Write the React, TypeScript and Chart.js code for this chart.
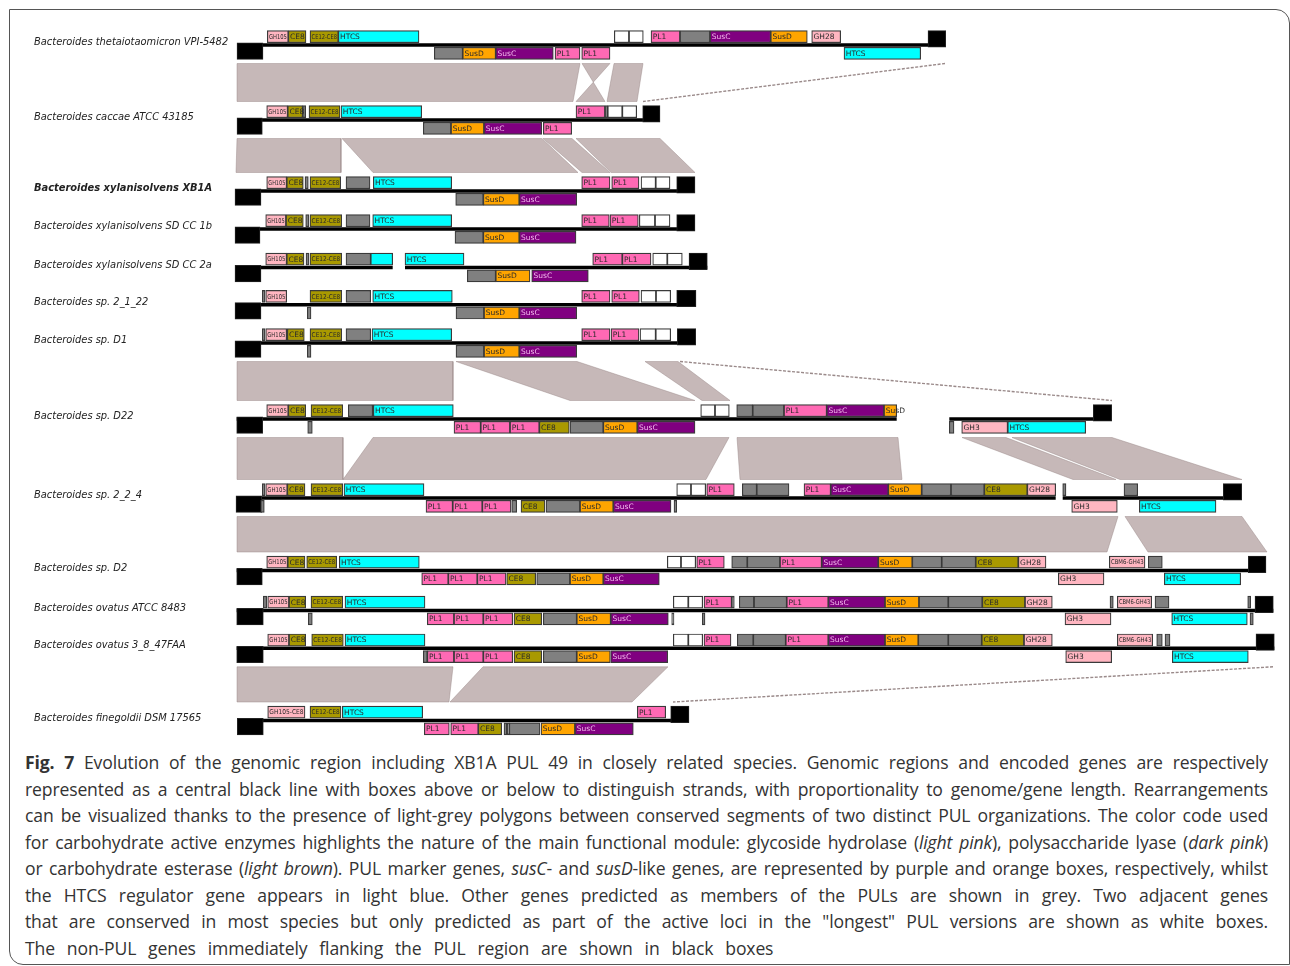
import { useEffect, useRef } from 'react';
import { Chart, registerables } from 'chart.js';

Chart.register(...registerables);

// [start, end, strand (+1 above line, -1 below), family, label]
type Gene = [number, number, number, string, string];

const speciesNames = [
  'Bacteroides thetaiotaomicron VPI-5482',
  'Bacteroides caccae ATCC 43185',
  'Bacteroides xylanisolvens XB1A',
  'Bacteroides xylanisolvens SD CC 1b',
  'Bacteroides xylanisolvens SD CC 2a',
  'Bacteroides sp. 2_1_22',
  'Bacteroides sp. D1',
  'Bacteroides sp. D22',
  'Bacteroides sp. 2_2_4',
  'Bacteroides sp. D2',
  'Bacteroides ovatus ATCC 8483',
  'Bacteroides ovatus 3_8_47FAA',
  'Bacteroides finegoldii DSM 17565',
];

// track (genome line) positions on the vertical axis
const trackY = [45, 120, 191, 229, 267.5, 304.7, 343, 419, 498, 570.5, 610.5, 648.3, 720.5];

// contig extents for each track
const contigs: [number, number][][] = [
  [[237, 945.7]],
  [[237, 660]],
  [[235, 695]],
  [[235, 695]],
  [[235, 392.7], [405, 707.3]],
  [[235, 696]],
  [[235, 695.7]],
  [[236.7, 896.7], [949.3, 1111.7]],
  [[236, 1055.7], [1062.7, 1241.7]],
  [[236.7, 1266]],
  [[236.7, 1273.3]],
  [[236.7, 1274.3]],
  [[237.3, 689]],
];

const thetaGenes: Gene[] = [
  [237, 263, -1, 'flank', ''], [267.3, 288.3, 1, 'GH', 'GH105'], [288.3, 306, 1, 'CE', 'CE8'],
  [310, 338.3, 1, 'CE', 'CE12-CE8'], [338.3, 419, 1, 'HTCS', 'HTCS'], [434.3, 462.7, -1, 'other', ''],
  [462.7, 495.7, -1, 'SusD', 'SusD'], [495.7, 553.3, -1, 'SusC', 'SusC'], [555, 580, -1, 'PL', 'PL1'],
  [581.7, 610, -1, 'PL', 'PL1'], [614.3, 629, 1, 'white', ''], [629, 643.3, 1, 'white', ''],
  [651, 680, 1, 'PL', 'PL1'], [680, 710, 1, 'other', ''], [710, 770.7, 1, 'SusC', 'SusC'],
  [770.7, 807.3, 1, 'SusD', 'SusD'], [811.7, 840.7, 1, 'GH', 'GH28'], [844, 920.7, -1, 'HTCS', 'HTCS'],
  [928, 945.7, 1, 'flank', ''],
];
const caccaeGenes: Gene[] = [
  [237, 262.3, -1, 'flank', ''], [266.7, 287.7, 1, 'GH', 'GH105'], [287.7, 302.7, 1, 'CE', 'CE8'],
  [302.7, 305.7, 1, 'other', ''], [309, 340, 1, 'CE', 'CE12-CE8'], [341, 421.7, 1, 'HTCS', 'HTCS'],
  [423.3, 451, -1, 'other', ''], [451, 484, -1, 'SusD', 'SusD'], [484, 541.7, -1, 'SusC', 'SusC'],
  [543.3, 571.7, -1, 'PL', 'PL1'], [576, 605, 1, 'PL', 'PL1'], [605, 607.7, 1, 'other', ''],
  [607.7, 622.3, 1, 'white', ''], [622.3, 636.7, 1, 'white', ''], [642.7, 660, 1, 'flank', ''],
];
const xb1aGenes: Gene[] = [
  [235, 261, -1, 'flank', ''], [266.7, 286.7, 1, 'GH', 'GH105'], [286.7, 303.3, 1, 'CE', 'CE8'],
  [305, 308.3, 1, 'other', ''], [310, 340.7, 1, 'CE', 'CE12-CE8'], [346, 370, 1, 'other', ''],
  [373.3, 451.7, 1, 'HTCS', 'HTCS'], [455.7, 483.3, -1, 'other', ''], [483.3, 519.3, -1, 'SusD', 'SusD'],
  [519.3, 576.7, -1, 'SusC', 'SusC'], [581.7, 610, 1, 'PL', 'PL1'], [611.7, 639, 1, 'PL', 'PL1'],
  [641, 655.7, 1, 'white', ''], [655.7, 670, 1, 'white', ''], [676.7, 695, 1, 'flank', ''],
];
const sdcc1bGenes: Gene[] = [
  [235, 260, -1, 'flank', ''], [265.7, 286, 1, 'GH', 'GH105'], [286, 303.3, 1, 'CE', 'CE8'],
  [305.7, 309, 1, 'other', ''], [310, 341.7, 1, 'CE', 'CE12-CE8'], [346, 370, 1, 'other', ''],
  [372.7, 451.7, 1, 'HTCS', 'HTCS'], [455, 483.3, -1, 'other', ''], [483.3, 519.3, -1, 'SusD', 'SusD'],
  [519.3, 576, -1, 'SusC', 'SusC'], [581.7, 609.3, 1, 'PL', 'PL1'], [610, 638.3, 1, 'PL', 'PL1'],
  [639.3, 655, 1, 'white', ''], [655, 670, 1, 'white', ''], [676.7, 695, 1, 'flank', ''],
];
const sdcc2aGenes: Gene[] = [
  [235, 261, -1, 'flank', ''], [265.7, 286.7, 1, 'GH', 'GH105'], [286.7, 304, 1, 'CE', 'CE8'],
  [306, 309, 1, 'other', ''], [310, 341.7, 1, 'CE', 'CE12-CE8'], [346, 370.7, 1, 'other', ''],
  [370.7, 392.7, 1, 'HTCS', ''], [405, 464, 1, 'HTCS', 'HTCS'], [467.3, 495.7, -1, 'other', ''],
  [495.7, 530, -1, 'SusD', 'SusD'], [531.7, 588.3, -1, 'SusC', 'SusC'], [592.7, 622.3, 1, 'PL', 'PL1'],
  [622.3, 651, 1, 'PL', 'PL1'], [652.7, 667.3, 1, 'white', ''], [667.3, 682.3, 1, 'white', ''],
  [689, 707.3, 1, 'flank', ''],
];
const sp2122Genes: Gene[] = [
  [235, 261, -1, 'flank', ''], [262.3, 265, 1, 'other', ''], [265.7, 286.7, 1, 'GH', 'GH105'],
  [307.3, 311, -1, 'other', ''], [310, 341.7, 1, 'CE', 'CE12-CE8'], [346, 370.7, 1, 'other', ''],
  [372.7, 452.3, 1, 'HTCS', 'HTCS'], [456, 484, -1, 'other', ''], [484, 519.3, -1, 'SusD', 'SusD'],
  [519.3, 576.7, -1, 'SusC', 'SusC'], [581.7, 610, 1, 'PL', 'PL1'], [611.7, 639.3, 1, 'PL', 'PL1'],
  [641, 656, 1, 'white', ''], [656, 670.7, 1, 'white', ''], [676.7, 696, 1, 'flank', ''],
];
const spD1Genes: Gene[] = [
  [235, 261, -1, 'flank', ''], [262.3, 265, 1, 'other', ''], [265.7, 286.7, 1, 'GH', 'GH105'],
  [287.3, 304.3, 1, 'CE', 'CE8'], [307.3, 311, -1, 'other', ''], [310, 341.7, 1, 'CE', 'CE12-CE8'],
  [346, 370.7, 1, 'other', ''], [372, 451.7, 1, 'HTCS', 'HTCS'], [456, 484, -1, 'other', ''],
  [484, 519.3, -1, 'SusD', 'SusD'], [519.3, 576.7, -1, 'SusC', 'SusC'], [581.7, 610, 1, 'PL', 'PL1'],
  [611, 639, 1, 'PL', 'PL1'], [640, 655.7, 1, 'white', ''], [655.7, 670.7, 1, 'white', ''],
  [677.3, 695.7, 1, 'flank', ''],
];
const spD22Genes: Gene[] = [
  [236.7, 262.7, -1, 'flank', ''], [266.7, 288.3, 1, 'GH', 'GH105'], [288.3, 305.7, 1, 'CE', 'CE8'],
  [307.7, 312.3, -1, 'other', ''], [311, 342.7, 1, 'CE', 'CE12-CE8'], [348.3, 372.7, 1, 'other', ''],
  [373.3, 453.3, 1, 'HTCS', 'HTCS'], [454, 480.7, -1, 'PL', 'PL1'], [480.7, 510, -1, 'PL', 'PL1'],
  [510, 539.3, -1, 'PL', 'PL1'], [539.3, 569.3, -1, 'CE', 'CE8'], [570, 603.3, -1, 'other', ''],
  [603.3, 637.3, -1, 'SusD', 'SusD'], [637.3, 695, -1, 'SusC', 'SusC'], [700.7, 715, 1, 'white', ''],
  [715, 729.3, 1, 'white', ''], [736.7, 752.7, 1, 'other', ''], [752.7, 784, 1, 'other', ''],
  [784, 826.7, 1, 'PL', 'PL1'], [826.7, 884, 1, 'SusC', 'SusC'], [884, 896.7, 1, 'SusD', 'SusD'],
  [949.3, 954, -1, 'other', ''], [961.7, 1007.7, -1, 'GH', 'GH3'], [1007.7, 1085.7, -1, 'HTCS', 'HTCS'],
  [1093.3, 1111.7, 1, 'flank', ''],
];
const sp224Genes: Gene[] = [
  [236, 261.7, -1, 'flank', ''], [260.7, 264.3, -1, 'other', ''], [262.3, 265, 1, 'other', ''],
  [265.7, 287.3, 1, 'GH', 'GH105'], [287.3, 305, 1, 'CE', 'CE8'], [311, 342.7, 1, 'CE', 'CE12-CE8'],
  [344, 424, 1, 'HTCS', 'HTCS'], [426, 452.7, -1, 'PL', 'PL1'], [452.7, 482.3, -1, 'PL', 'PL1'],
  [482.3, 511, -1, 'PL', 'PL1'], [511.7, 516.7, -1, 'other', ''], [521, 545, -1, 'CE', 'CE8'],
  [546, 580, -1, 'other', ''], [580, 613.3, -1, 'SusD', 'SusD'], [613.3, 671, -1, 'SusC', 'SusC'],
  [674, 676.7, -1, 'other', ''], [676.7, 691, 1, 'white', ''], [691, 705.7, 1, 'white', ''],
  [706.7, 734.3, 1, 'PL', 'PL1'], [742.3, 756.7, 1, 'other', ''], [756.7, 789, 1, 'other', ''],
  [804, 830.7, 1, 'PL', 'PL1'], [830.7, 888.3, 1, 'SusC', 'SusC'], [888.3, 921.7, 1, 'SusD', 'SusD'],
  [921.7, 951, 1, 'other', ''], [951, 984.3, 1, 'other', ''], [984.3, 1027.3, 1, 'CE', 'CE8'],
  [1027.3, 1055.7, 1, 'GH', 'GH28'], [1062.7, 1066, 1, 'other', ''], [1071.7, 1117.3, -1, 'GH', 'GH3'],
  [1124, 1137.7, 1, 'other', ''], [1139.3, 1216, -1, 'HTCS', 'HTCS'], [1223.3, 1241.7, 1, 'flank', ''],
];
const spD2Genes: Gene[] = [
  [236.7, 262.3, -1, 'flank', ''], [266.7, 287.7, 1, 'GH', 'GH105'], [287.7, 305, 1, 'CE', 'CE8'],
  [306.7, 336.7, 1, 'CE', 'CE12-CE8'], [339.3, 419.3, 1, 'HTCS', 'HTCS'], [421.7, 448.3, -1, 'PL', 'PL1'],
  [448.3, 477.3, -1, 'PL', 'PL1'], [477.3, 506, -1, 'PL', 'PL1'], [506.7, 535.7, -1, 'CE', 'CE8'],
  [536.7, 570, -1, 'other', ''], [570, 603.3, -1, 'SusD', 'SusD'], [603.3, 659.3, -1, 'SusC', 'SusC'],
  [667.3, 681, 1, 'white', ''], [681, 695.7, 1, 'white', ''], [696.7, 724.3, 1, 'PL', 'PL1'],
  [731.7, 747.3, 1, 'other', ''], [747.3, 780, 1, 'other', ''], [780, 821.7, 1, 'PL', 'PL1'],
  [821.7, 878.3, 1, 'SusC', 'SusC'], [878.3, 912.3, 1, 'SusD', 'SusD'], [912.3, 941.7, 1, 'other', ''],
  [941.7, 975.7, 1, 'other', ''], [975.7, 1018.3, 1, 'CE', 'CE8'], [1018.3, 1046, 1, 'GH', 'GH28'],
  [1058.3, 1104, -1, 'GH', 'GH3'], [1109.3, 1145, 1, 'GH', 'CBM6-GH43'], [1148.3, 1162.3, 1, 'other', ''],
  [1164.3, 1240.7, -1, 'HTCS', 'HTCS'], [1248.3, 1266, 1, 'flank', ''],
];
const ovatus8483Genes: Gene[] = [
  [236.7, 263.3, -1, 'flank', ''], [263.3, 266.7, 1, 'other', ''], [267.7, 289, 1, 'GH', 'GH105'],
  [289, 305.7, 1, 'CE', 'CE8'], [308.3, 312.3, -1, 'other', ''], [311, 342.7, 1, 'CE', 'CE12-CE8'],
  [345, 425, 1, 'HTCS', 'HTCS'], [427.3, 454, -1, 'PL', 'PL1'], [454, 483.3, -1, 'PL', 'PL1'],
  [483.3, 512.7, -1, 'PL', 'PL1'], [514, 541.7, -1, 'CE', 'CE8'], [543.3, 576.7, -1, 'other', ''],
  [576.7, 610.7, -1, 'SusD', 'SusD'], [610.7, 668.3, -1, 'SusC', 'SusC'], [671.7, 674, -1, 'other', ''],
  [673.3, 688.3, 1, 'white', ''], [688.3, 702.7, 1, 'white', ''], [702.3, 705, -1, 'other', ''],
  [704, 731.7, 1, 'PL', 'PL1'], [731.7, 734.3, 1, 'other', ''], [739.3, 754, 1, 'other', ''],
  [754, 786.7, 1, 'other', ''], [786.7, 828.3, 1, 'PL', 'PL1'], [828.3, 885, 1, 'SusC', 'SusC'],
  [885, 919, 1, 'SusD', 'SusD'], [919, 948.3, 1, 'other', ''], [948.3, 982.3, 1, 'other', ''],
  [982.3, 1025, 1, 'CE', 'CE8'], [1025, 1052.3, 1, 'GH', 'GH28'], [1065, 1111, -1, 'GH', 'GH3'],
  [1110, 1113.3, 1, 'other', ''], [1117.3, 1151.7, 1, 'GH', 'CBM6-GH43'], [1155, 1169, 1, 'other', ''],
  [1171.7, 1247.3, -1, 'HTCS', 'HTCS'], [1247.7, 1250.7, 1, 'other', ''], [1250, 1253.3, -1, 'other', ''],
  [1255, 1273.3, 1, 'flank', ''],
];
const ovatus3847Genes: Gene[] = [
  [236.7, 263.3, -1, 'flank', ''], [267.7, 289, 1, 'GH', 'GH105'], [289, 305.7, 1, 'CE', 'CE8'],
  [311.7, 343.3, 1, 'CE', 'CE12-CE8'], [345, 425, 1, 'HTCS', 'HTCS'], [423.3, 427.3, -1, 'other', ''],
  [427.3, 454, -1, 'PL', 'PL1'], [454, 483.3, -1, 'PL', 'PL1'], [483.3, 512.7, -1, 'PL', 'PL1'],
  [514, 541.7, -1, 'CE', 'CE8'], [543.3, 576.7, -1, 'other', ''], [576.7, 610.3, -1, 'SusD', 'SusD'],
  [610.7, 667.7, -1, 'SusC', 'SusC'], [673.3, 688.3, 1, 'white', ''], [688.3, 702.7, 1, 'white', ''],
  [704, 731, 1, 'PL', 'PL1'], [737.3, 753.3, 1, 'other', ''], [753.3, 785.7, 1, 'other', ''],
  [785.7, 828.3, 1, 'PL', 'PL1'], [828.3, 885, 1, 'SusC', 'SusC'], [885, 918.3, 1, 'SusD', 'SusD'],
  [918.3, 948.3, 1, 'other', ''], [948.3, 981.7, 1, 'other', ''], [981.7, 1024, 1, 'CE', 'CE8'],
  [1024, 1052.3, 1, 'GH', 'GH28'], [1065.7, 1111.7, -1, 'GH', 'GH3'], [1117.3, 1152.7, 1, 'GH', 'CBM6-GH43'],
  [1156.7, 1162.3, 1, 'other', ''], [1165, 1170, 1, 'other', ''], [1172.3, 1248.3, -1, 'HTCS', 'HTCS'],
  [1256, 1274.3, 1, 'flank', ''],
];
const finegoldiiGenes: Gene[] = [
  [237.3, 263.3, -1, 'flank', ''], [267.7, 305, 1, 'GH', 'GH105-CE8'], [310, 341, 1, 'CE', 'CE12-CE8'],
  [342.3, 422.7, 1, 'HTCS', 'HTCS'], [424.3, 449.3, -1, 'PL', 'PL1'], [450.7, 478.3, -1, 'PL', 'PL1'],
  [478.3, 501.7, -1, 'CE', 'CE8'], [504, 506.7, -1, 'other', ''], [507.3, 509.3, -1, 'other', ''],
  [509.3, 540, -1, 'other', ''], [541, 575, -1, 'SusD', 'SusD'], [575, 633.3, -1, 'SusC', 'SusC'],
  [637.3, 665.7, 1, 'PL', 'PL1'], [670.7, 689, 1, 'flank', ''],
];

const geneRows: Gene[][] = [
  thetaGenes, caccaeGenes, xb1aGenes, sdcc1bGenes, sdcc2aGenes, sp2122Genes, spD1Genes,
  spD22Genes, sp224Genes, spD2Genes, ovatus8483Genes, ovatus3847Genes, finegoldiiGenes,
];

// conserved segments: [upper track, upper start, upper end, lower start, lower end]
const syntenyBlocks: [number, number, number, number, number][] = [
  [0, 237, 580, 237, 573],
  [0, 582, 610, 605, 576],
  [0, 614, 643, 607, 637],
  [1, 237, 341, 236, 341],
  [1, 342, 542, 373, 578],
  [1, 543, 572, 582, 610],
  [1, 576, 660, 611, 695],
  [6, 237, 453, 237, 453],
  [6, 456, 577, 570, 695],
  [6, 645, 678, 702, 730],
  [7, 237, 343, 237, 343],
  [7, 373, 729, 343, 706],
  [7, 737, 898, 740, 902],
  [7, 962, 1006, 1073, 1116],
  [7, 1012, 1112, 1120, 1242],
  [8, 237, 1118, 237, 1107],
  [8, 1125, 1242, 1148, 1267],
  [11, 237, 453, 237, 449],
  [11, 483, 668, 450, 632],
];
// very thin conserved segments: [upper track, upper x, lower x]
const syntenyTraces: [number, number, number][] = [
  [0, 945, 643],
  [6, 680, 1112],
  [11, 1273, 673],
];

const familyColors: Record<string, string> = {
  GH: '#ffb6c1', PL: '#ff69b4', CE: '#a99900', HTCS: '#00ffff', SusC: '#800080',
  SusD: '#ffa500', other: '#808080', white: '#ffffff', flank: '#000000',
};

const GAP = 18.5;

export default function App() {
  const ref = useRef<HTMLCanvasElement>(null);

  useEffect(() => {
    const geneData: { x: [number, number]; y: number }[] = [];
    const geneColors: string[] = [];
    const geneLabels: string[] = [];
    const geneFams: string[] = [];
    const flankData: { x: [number, number]; y: number }[] = [];
    geneRows.forEach((row, r) => {
      row.forEach(([s, e, strand, fam, label]) => {
        if (fam === 'flank') {
          flankData.push({ x: [s, e], y: trackY[r] - strand * 6.2 });
        } else {
          geneData.push({ x: [s, e], y: trackY[r] - strand * 8.3 });
          geneColors.push(familyColors[fam]);
          geneLabels.push(label);
          geneFams.push(fam);
        }
      });
    });

    const contigSets = contigs.flatMap((list, r) =>
      list.map(([s, e]) => ({
        type: 'line' as const,
        data: [{ x: s, y: trackY[r] }, { x: e, y: trackY[r] }],
        borderColor: '#000',
        borderWidth: 3.4,
        pointRadius: 0,
        fill: false,
        order: 1,
      }))
    );

    const blockSets = syntenyBlocks.map(([t, ts, te, bs, be]) => {
      const T = trackY[t] + GAP;
      const B = trackY[t + 1] - GAP;
      return {
        type: 'line' as const,
        data: [{ x: ts, y: T }, { x: te, y: T }, { x: be, y: B }, { x: bs, y: B }, { x: ts, y: T }],
        fill: 'shape' as const,
        backgroundColor: '#c6b8b8',
        borderColor: 'rgba(150,132,132,0.55)',
        borderWidth: 0.8,
        pointRadius: 0,
        order: 2,
      };
    });

    const traceSets = syntenyTraces.map(([t, tx, bx]) => ({
      type: 'line' as const,
      data: [{ x: tx, y: trackY[t] + GAP }, { x: bx, y: trackY[t + 1] - GAP }],
      borderColor: '#9a8a8a',
      borderWidth: 1.4,
      borderDash: [3, 1.5],
      pointRadius: 0,
      fill: false,
      order: 2,
    }));

    const labelPlugin = {
      id: 'geneLabels',
      afterDatasetsDraw(chart: any) {
        const meta = chart.getDatasetMeta(0);
        const ctx = chart.ctx as CanvasRenderingContext2D;
        ctx.save();
        ctx.textBaseline = 'middle';
        ctx.textAlign = 'left';
        meta.data.forEach((el: any, i: number) => {
          const label = geneLabels[i];
          if (!label) return;
          const { x, base, y } = el.getProps(['x', 'base', 'y'], true);
          const left = Math.min(x, base);
          const w = Math.abs(x - base);
          ctx.fillStyle = geneFams[i] === 'SusC' ? '#f3b8ec' : '#2a2a2a';
          if (label.length > 4) {
            // long labels are squeezed horizontally to fit inside their box
            ctx.font = '6.6px "DejaVu Sans"';
            const tw = ctx.measureText(label).width;
            const sx = Math.min(1, (w - 3) / tw);
            ctx.save();
            ctx.translate(left + 1.6, y + 0.5);
            ctx.scale(sx, 1);
            ctx.fillText(label, 0, 0);
            ctx.restore();
          } else {
            ctx.font = '7.5px "DejaVu Sans"';
            ctx.fillText(label, left + 1.8, y + 0.5);
          }
        });
        ctx.restore();
      },
    };

    const chart = new Chart(ref.current as HTMLCanvasElement, {
      type: 'scatter',
      data: {
        datasets: [
          {
            type: 'bar',
            data: geneData as any,
            indexAxis: 'y',
            barThickness: 12,
            grouped: false,
            backgroundColor: geneColors,
            borderColor: '#3a3a3a',
            borderWidth: 1.2,
            borderSkipped: false,
            order: 0,
          } as any,
          {
            type: 'bar',
            data: flankData as any,
            indexAxis: 'y',
            barThickness: 16.5,
            grouped: false,
            backgroundColor: '#000',
            borderColor: '#222',
            borderWidth: 1,
            borderSkipped: false,
            order: 0,
          } as any,
          ...contigSets,
          ...blockSets,
          ...traceSets,
        ] as any,
      },
      options: {
        responsive: false,
        animation: false,
        events: [],
        layout: { padding: { left: 24, right: 0, top: 0, bottom: 0 }, autoPadding: false },
        plugins: { legend: { display: false }, tooltip: { enabled: false } },
        scales: {
          x: {
            type: 'linear',
            min: 232,
            max: 1289,
            bounds: 'data',
            offset: false,
            beginAtZero: false,
            display: false,
            grid: { display: false, offset: false },
          },
          y: {
            type: 'linear',
            position: 'left',
            min: 10,
            max: 745,
            reverse: true,
            bounds: 'data',
            offset: false,
            beginAtZero: false,
            grid: { display: false, offset: false },
            border: { display: false },
            afterFit: (scale: any) => {
              scale.width = 198;
              scale.paddingTop = 0;
              scale.paddingBottom = 0;
            },
            afterBuildTicks: (scale: any) => {
              scale.ticks = trackY.map((v) => ({ value: v }));
            },
            ticks: {
              autoSkip: false,
              crossAlign: 'far',
              padding: 0,
              labelOffset: -2.5,
              color: '#222',
              font: (c: any) => ({
                family: '"DejaVu Sans"',
                size: 9.9,
                style: 'italic',
                weight: c.index === 2 ? 'bold' : 'normal',
              }),
              callback: (_v: any, i: number) => speciesNames[i],
            },
          },
        },
      } as any,
      plugins: [labelPlugin],
    });
    return () => chart.destroy();
  }, []);

  const lineStyle = { textAlign: 'justify' as const, textAlignLast: 'justify' as const, whiteSpace: 'normal' as const };

  return (
    <>
      <div
        style={{
          position: 'absolute', left: 9, top: 9, width: 1281, height: 956,
          border: '1.5px solid #555', borderRadius: '0 14px 0 14px', boxSizing: 'border-box',
        }}
      />
      <div style={{ position: 'absolute', left: 10, top: 10, width: 1279, height: 735 }}>
        <canvas ref={ref} width={1279} height={735} style={{ width: 1279, height: 735, display: 'block' }} />
      </div>
      <div
        style={{
          position: 'absolute', left: 25, top: 749, width: 1243,
          fontFamily: '"Open Sans", sans-serif', fontSize: 17.6, letterSpacing: '-0.15px',
          lineHeight: '26.5px', color: '#333',
        }}
      >
        <div style={lineStyle}>
          <b>Fig. 7</b> Evolution of the genomic region including XB1A PUL 49 in closely related species. Genomic regions and encoded genes are respectively
        </div>
        <div style={lineStyle}>
          represented as a central black line with boxes above or below to distinguish strands, with proportionality to genome/gene length. Rearrangements
        </div>
        <div style={lineStyle}>
          can be visualized thanks to the presence of light-grey polygons between conserved segments of two distinct PUL organizations. The color code used
        </div>
        <div style={lineStyle}>
          for carbohydrate active enzymes highlights the nature of the main functional module: glycoside hydrolase (<i>light pink</i>), polysaccharide lyase (<i>dark pink</i>)
        </div>
        <div style={lineStyle}>
          or carbohydrate esterase (<i>light brown</i>). PUL marker genes, <i>susC</i>- and <i>susD</i>-like genes, are represented by purple and orange boxes, respectively, whilst
        </div>
        <div style={lineStyle}>
          the HTCS regulator gene appears in light blue. Other genes predicted as members of the PULs are shown in grey. Two adjacent genes
        </div>
        <div style={lineStyle}>
          that are conserved in most species but only predicted as part of the active loci in the "longest" PUL versions are shown as white boxes.
        </div>
        <div style={{ wordSpacing: 7.5 }}>
          The non-PUL genes immediately flanking the PUL region are shown in black boxes
        </div>
      </div>
    </>
  );
}
